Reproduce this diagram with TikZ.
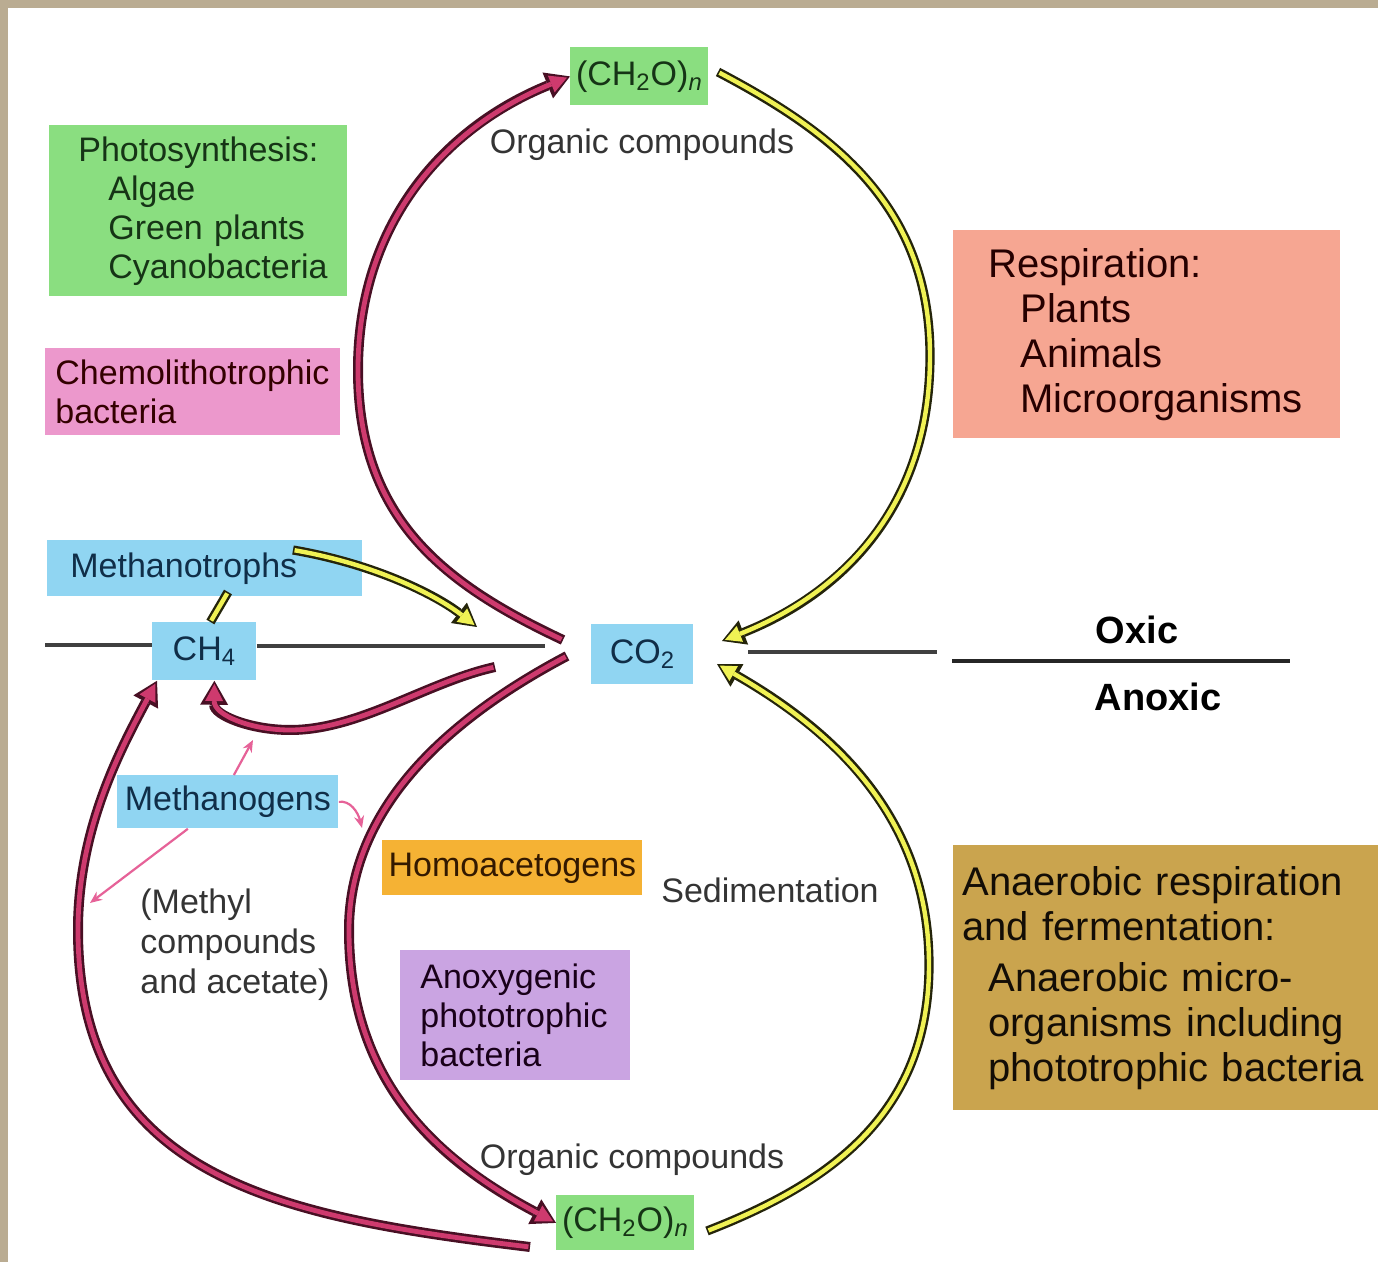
\documentclass[tikz,border=0pt]{standalone}
\usepackage{fontspec}
\setmainfont{Liberation Sans}
\usetikzlibrary{arrows.meta}

\hyphenpenalty=10000
\exhyphenpenalty=10000

\definecolor{frametan}{RGB}{186,172,146}
\definecolor{leafgreen}{RGB}{138,222,128}
\definecolor{leafink}{RGB}{22,52,22}
\definecolor{chemopink}{RGB}{236,152,204}
\definecolor{salmon}{RGB}{246,166,146}
\definecolor{skyblue}{RGB}{144,213,242}
\definecolor{skyink}{RGB}{16,46,72}
\definecolor{amber}{RGB}{245,178,52}
\definecolor{lilac}{RGB}{202,164,226}
\definecolor{ochre}{RGB}{202,164,78}
\definecolor{magfill}{RGB}{206,58,110}
\definecolor{magline}{RGB}{72,16,36}
\definecolor{yelfill}{RGB}{240,242,84}
\definecolor{yelline}{RGB}{36,36,10}
\definecolor{thinpink}{RGB}{230,98,152}
\definecolor{textgray}{RGB}{52,52,52}

\newcommand{\basefont}{\fontsize{17}{19.5}\selectfont}
\newcommand{\bigfont}{\fontsize{20}{22.5}\selectfont}
\newcommand{\carb}{(CH\textsubscript{2}O)\textsubscript{\itshape n}}

\tikzset{
  box/.style={anchor=north west, inner ysep=0pt, align=left, font=\basefont},
  chip/.style={anchor=north west, inner sep=0pt, font=\basefont, text=skyink},
  label/.style={font=\basefont, text=textgray, inner sep=0pt},
  layerline/.style={draw=black!75, line width=1.8pt},
  magflow/.style={draw=magfill, line width=2.4pt, shorten >=1.6pt, shorten <=0.8pt,
    -{Triangle[length=8.5pt,width=9pt,line width=0pt]},
    preaction={draw=magline, line width=5pt, shorten >=0pt, shorten <=0pt,
      -{Triangle[length=12pt,width=14pt,line width=0pt]}}},
  yelflow/.style={draw=yelfill, line width=2.2pt, shorten >=1.6pt, shorten <=0.8pt,
    -{Triangle[length=8pt,width=8.5pt,line width=0pt]},
    preaction={draw=yelline, line width=4.6pt, shorten >=0pt, shorten <=0pt,
      -{Triangle[length=11.5pt,width=13pt,line width=0pt]}}},
  yelbar/.style={draw=yelfill, line width=2.2pt, shorten >=0.8pt, shorten <=0.8pt,
    preaction={draw=yelline, line width=4.6pt, shorten >=0pt, shorten <=0pt}},
  thinflow/.style={draw=thinpink, line width=1.1pt, -{Stealth[length=6pt,width=5pt]}}
}

\begin{document}
\begin{tikzpicture}[x=0.5pt, y=-0.5pt]

\useasboundingbox (0,0) rectangle (1378,1262);
\fill[frametan] (0,0) rectangle (1378,1262);
\fill[white] (8,8) rectangle (1378,1262);

% boxes
\node[chip, fill=leafgreen, text=leafink, minimum width=69pt, minimum height=29pt] (topCH) at (570,47) {\carb};
\node[box, fill=leafgreen, text=leafink, minimum height=85.5pt, inner xsep=14.5pt, text width=120pt] (photo) at (49,125)
  {Photosynthesis:\\\hspace*{15pt}Algae\\\hspace*{15pt}Green plants\\\hspace*{15pt}Cyanobacteria};
\node[box, fill=chemopink, text=black!80!red, minimum height=43.5pt, inner xsep=5pt, text width=137.5pt] (chemo) at (45,348)
  {Chemolithotrophic\\bacteria};
\node[box, fill=salmon, text=black!85!red, font=\bigfont, minimum height=104pt, inner xsep=17.5pt, text width=158.5pt] (resp) at (953,230)
  {Respiration:\\\hspace*{16pt}Plants\\\hspace*{16pt}Animals\\\hspace*{16pt}Microorganisms};
\node[box, fill=skyblue, text=skyink, minimum height=28pt, inner xsep=11.5pt, text width=134.5pt] (mtroph) at (47,540) {Methanotrophs};
\node[chip, fill=skyblue, minimum width=52pt, minimum height=29pt] (ch4) at (152,622) {CH\textsubscript{4}};
\node[chip, fill=skyblue, minimum width=51pt, minimum height=30pt] (co2) at (591,624) {CO\textsubscript{2}};
\node[chip, fill=skyblue, minimum width=110.5pt, minimum height=26.5pt] (mgen) at (117,775) {Methanogens};
\node[chip, fill=amber, text=black!80!orange, minimum width=130pt, minimum height=27.5pt] (homo) at (382,840) {Homoacetogens};
\node[box, fill=lilac, text=black!80!violet, minimum height=65pt, inner xsep=10pt, text width=95pt] (anoxy) at (400,950)
  {Anoxygenic\\phototrophic\\bacteria};
\node[box, fill=ochre, text=black!90!brown, font=\bigfont, minimum height=132.5pt, inner xsep=4.5pt, text width=203.5pt] (anaer) at (953,845)
  {Anaerobic respiration\\and fermentation:\\[3pt]\hspace*{13pt}Anaerobic micro-\\\hspace*{13pt}organisms including\\\hspace*{13pt}phototrophic bacteria};
\node[chip, fill=leafgreen, text=leafink, minimum width=69pt, minimum height=27.5pt] (botCH) at (556,1195) {\carb};

% plain labels
\node[label] (orgtop) at (642,145) {Organic compounds};
\node[label] (orgbot) at (632,1160) {Organic compounds};
\node[label] (sedim) at (770,890) {Sedimentation};
\node[label, anchor=west, align=left, font=\fontsize{17}{20}\selectfont] (methyl) at (140,945) {(Methyl\\compounds\\and acetate)};
\node[font=\fontsize{19}{22}\selectfont\bfseries, inner sep=0pt] (oxic) at (1137,630) {Oxic};
\node[font=\fontsize{19}{22}\selectfont\bfseries, inner sep=0pt] (anoxic) at (1158,697) {Anoxic};

% oxic / anoxic boundary
\draw[layerline] (45,645) -- (ch4.west |- 0,645);
\draw[layerline] (ch4.east |- 0,646) -- (545,646);
\draw[layerline] (748,652) -- (937,652);
\draw[layerline, draw=black!85, line width=2.2pt] (952,661) -- (1290,661);

\coordinate (topTail) at (563,640);
\coordinate (botTail) at (567,656);
\coordinate (ch4Tail) at (495,667);
\coordinate (longTail) at (530,1247);
\coordinate (yTopTail) at (718,72);
\coordinate (yTopTip) at (722,641);
\coordinate (yBotTail) at (707,1231);
\coordinate (yBotTip) at (717,664);
\coordinate (mtTail) at (293,550);
\coordinate (mtTip) at (477,627);

% carbon fixation and respiration loops
\draw[magflow] (topTail) .. controls (446,585) and (358,520) .. (358,370)
  .. controls (358,220) and (448,126) .. (topCH.west);
\draw[yelflow] (yTopTail) .. controls (834,133) and (930,206) .. (930,356)
  .. controls (930,506) and (843,593) .. (yTopTip);
\draw[magflow] (botTail) .. controls (461,712) and (349,800) .. (349,930)
  .. controls (349,1080) and (435,1159) .. (botCH.west);
\draw[yelflow] (yBotTail) .. controls (828,1184) and (929,1115) .. (929,965)
  .. controls (929,815) and (830,729) .. (yBotTip);

% methane
\draw[magflow] (ch4Tail) .. controls (427,682) and (360,730) .. (290,730)
  .. controls (250,730) and (214,715) .. ([xshift=5pt]ch4.south);
\draw[magflow] (longTail) .. controls (282,1217) and (78,1180) .. (78,930)
  .. controls (78,830) and (119,752) .. ([xshift=2.5pt]ch4.south west);
\draw[yelflow] (mtTail) .. controls (380,565) and (440,598) .. (mtTip);
\draw[yelbar] ([xshift=3pt]ch4.north) -- (228,592);

\draw[thinflow] ([xshift=3pt]mgen.north) -- (253,740);
\draw[thinflow] ([xshift=-20pt]mgen.south) -- (90,903);
\draw[thinflow] (mgen.east) .. controls (350,800) and (358,812) .. (362,828);

\end{tikzpicture}
\end{document}
